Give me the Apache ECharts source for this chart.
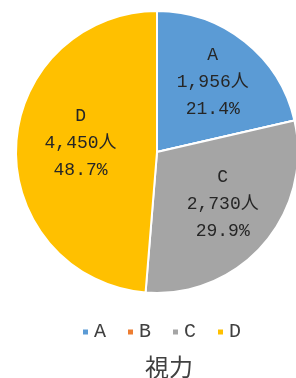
<!DOCTYPE html>
<html>
<head>
<meta charset="utf-8">
<script src="https://cdn.jsdelivr.net/npm/echarts@6/dist/echarts.min.js"></script>
<style>
  html, body { margin: 0; padding: 0; background: #fff; }
  #main { width: 296px; height: 378px; }
</style>
</head>
<body>
<div id="main"></div>
<script>
var categories = ['A', 'B', 'C', 'D'];
var people = [1956, 0, 2730, 4450];
var percents = ['21.4%', '0.0%', '29.9%', '48.7%'];
var colors = ['#5B9BD5', '#ED7D31', '#A5A5A5', '#FFC000'];
var chartTitle = '視力';

var font = '"Liberation Mono", "Noto Sans CJK JP", monospace';
// small nudges so the labels sit where the original put them
var labelNudge = [[0, 0], [0, 0], [-2, -6], [13, -5]];

function fmtNum(n) {
    return String(n).replace(/\B(?=(\d{3})+(?!\d))/g, ',');
}

var pieData = [];
var labelData = [];
for (var i = 0; i < categories.length; i++) {
    pieData.push({
        name: categories[i],
        value: people[i],
        itemStyle: { color: colors[i] }
    });
    labelData.push({
        name: categories[i],
        value: people[i],
        label: { show: people[i] > 0, offset: labelNudge[i] }
    });
}

var myChart = echarts.init(document.getElementById('main'));
var option = {
    animation: false,
    title: {
        text: chartTitle,
        left: 140,
        top: 350,
        textStyle: {
            fontFamily: '"Noto Sans CJK JP", sans-serif',
            fontSize: 24,
            fontWeight: 'normal',
            color: '#404040'
        }
    },
    legend: {
        data: categories,
        left: 76,
        top: 317,
        icon: 'rect',
        itemWidth: 7,
        itemHeight: 7,
        itemGap: 20,
        textStyle: {
            fontFamily: font,
            fontSize: 20,
            color: '#404040'
        }
    },
    series: [{
        type: 'pie',
        center: [157, 152],
        radius: [0, 141],
        startAngle: 90,
        clockwise: true,
        silent: true,
        label: { show: false },
        labelLine: { show: false },
        itemStyle: { borderColor: '#fff', borderWidth: 2 },
        data: pieData
    }, {
        type: 'pie',
        center: [157, 152],
        radius: [32, 141],
        startAngle: 90,
        clockwise: true,
        silent: true,
        itemStyle: { color: 'rgba(0,0,0,0)' },
        labelLine: { show: false },
        label: {
            position: 'inside',
            fontFamily: font,
            fontSize: 18,
            lineHeight: 27,
            color: '#262626',
            formatter: function (p) {
                return p.name + '\n' + fmtNum(p.value) + '人\n' + percents[p.dataIndex];
            }
        },
        data: labelData
    }]
};
myChart.setOption(option);
</script>
</body>
</html>
